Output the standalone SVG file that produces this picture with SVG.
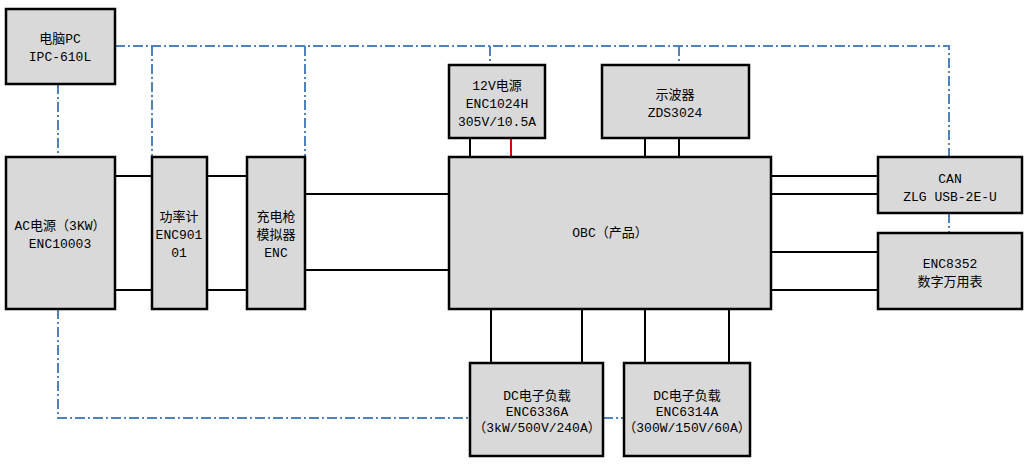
<svg xmlns="http://www.w3.org/2000/svg" width="1031" height="468" viewBox="0 0 1031 468">
<style>
.box{fill:#d9d9d9;stroke:#000;stroke-width:2.5}
.t{font-family:"Liberation Mono","Noto Sans CJK SC",monospace;font-size:13px;fill:#000;text-anchor:middle;dominant-baseline:central}
.w{stroke:#000;stroke-width:2;fill:none}
.r{stroke:#e00000;stroke-width:2;fill:none}
.d{stroke:#4f81bd;stroke-width:2;fill:none;stroke-dasharray:10,3,2,3}
</style>
<rect width="1031" height="468" fill="#fff"/>
<g id="connectors">
<path class="d" d="M115,46 H949 V157"/>
<path class="d" d="M152,46 V157 M305,46 V157 M490,46 V65 M679,46 V65"/>
<path class="d" d="M58,84 V157"/>
<path class="d" d="M58,309 V418 H470 M603,418 H624"/>
<path class="d" d="M949,213 V233"/>
<path class="w" d="M115,176 H152 M115,290 H152 M207,176 H247 M207,290 H247 M305,194 H449 M305,270 H449"/>
<path class="w" d="M470,138 V157 M645,138 V157 M679,138 V157"/>
<path class="r" d="M511,138 V157"/>
<path class="w" d="M771,176 H878 M771,194 H878 M771,252 H878 M771,290 H878"/>
<path class="w" d="M491,309 V363 M582,309 V363 M645,309 V363 M729,309 V363"/>
</g>
<g id="pc"><rect class="box" x="6" y="9" width="109" height="75"/><text class="t" x="60" y="39">电脑PC</text><text class="t" x="60" y="57">IPC-610L</text></g>
<g id="ac"><rect class="box" x="6" y="157" width="109" height="152"/><text class="t" x="60" y="226">AC电源（3KW）</text><text class="t" x="60" y="244">ENC10003</text></g>
<g id="meter"><rect class="box" x="152" y="157" width="55" height="152"/><text class="t" x="179" y="217">功率计</text><text class="t" x="179" y="235">ENC901</text><text class="t" x="179" y="253">01</text></g>
<g id="gun"><rect class="box" x="247" y="157" width="58" height="152"/><text class="t" x="276" y="217">充电枪</text><text class="t" x="276" y="235">模拟器</text><text class="t" x="276" y="253">ENC</text></g>
<g id="obc"><rect class="box" x="449" y="157" width="322" height="152"/><text class="t" x="610" y="233">OBC（产品）</text></g>
<g id="ps12"><rect class="box" x="449" y="65" width="96" height="73"/><text class="t" x="497" y="86">12V电源</text><text class="t" x="497" y="104">ENC1024H</text><text class="t" x="497" y="122">305V/10.5A</text></g>
<g id="scope"><rect class="box" x="602" y="65" width="147" height="73"/><text class="t" x="675" y="95">示波器</text><text class="t" x="675" y="113">ZDS3024</text></g>
<g id="can"><rect class="box" x="878" y="157" width="144" height="56"/><text class="t" x="950" y="179">CAN</text><text class="t" x="950" y="197">ZLG USB-2E-U</text></g>
<g id="dmm"><rect class="box" x="878" y="233" width="144" height="76"/><text class="t" x="950" y="264">ENC8352</text><text class="t" x="950" y="282">数字万用表</text></g>
<g id="load1"><rect class="box" x="470" y="363" width="133" height="93"/><text class="t" x="537" y="396">DC电子负载</text><text class="t" x="537" y="412">ENC6336A</text><text class="t" x="537" y="428">（3kW/500V/240A）</text></g>
<g id="load2"><rect class="box" x="624" y="363" width="126" height="93"/><text class="t" x="687" y="396">DC电子负载</text><text class="t" x="687" y="412">ENC6314A</text><text class="t" x="687" y="428">（300W/150V/60A）</text></g>
</svg>
